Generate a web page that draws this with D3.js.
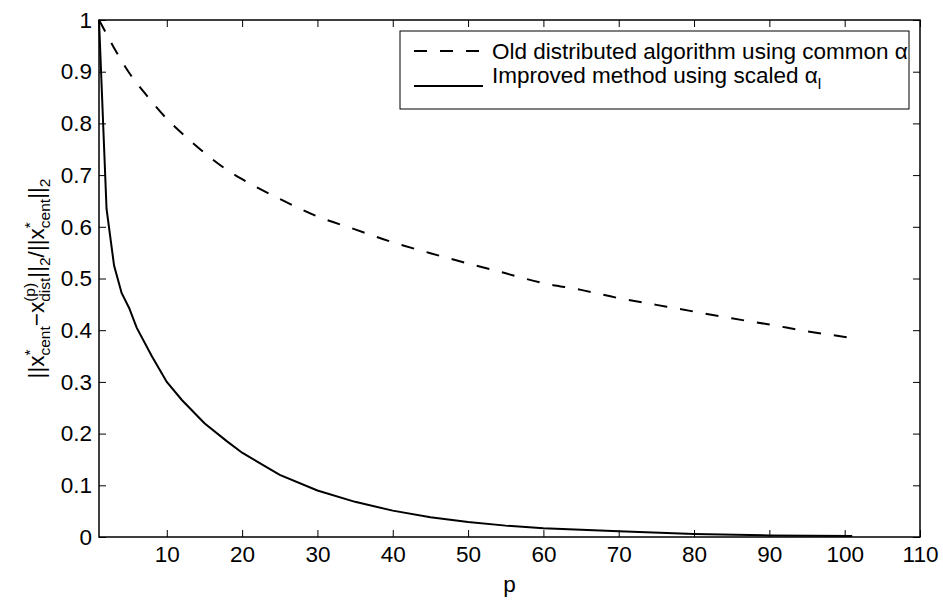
<!DOCTYPE html>
<html>
<head>
<meta charset="utf-8">
<script src="https://cdn.jsdelivr.net/npm/d3@7"></script>
<style>
body { margin: 0; background: #fff; }
svg text { font-family: "Liberation Sans", Arial, sans-serif; fill: #000; }
</style>
</head>
<body>
<div id="chart"></div>
<script>
var width = 943,
    height = 600;

const margin = { top: 20, right: 23, bottom: 63, left: 99 };
const fontSize = 22.5;
const smallSize = 15.5;

// old distributed algorithm (dashed)
const pOld = [1, 2, 3, 5, 7, 10, 12, 15, 18, 20, 25, 30, 35, 40, 45, 50, 55, 60, 65, 70, 75, 80, 85, 90, 95, 101];
const errOld = [1.0, 0.973, 0.946, 0.898, 0.860, 0.809, 0.781, 0.743, 0.710, 0.692, 0.654, 0.620, 0.595, 0.570, 0.549, 0.529, 0.510, 0.491, 0.478, 0.462, 0.449, 0.436, 0.423, 0.411, 0.398, 0.385];

// improved method (solid)
const pNew = [1, 2, 3, 4, 5, 6, 8, 10, 12, 15, 18, 20, 22, 25, 30, 35, 40, 45, 50, 55, 60, 70, 80, 90, 101];
const errNew = [1.0, 0.635, 0.525, 0.472, 0.443, 0.405, 0.350, 0.300, 0.265, 0.220, 0.185, 0.163, 0.146, 0.120, 0.090, 0.068, 0.051, 0.038, 0.029, 0.022, 0.017, 0.011, 0.006, 0.003, 0.002];

const xTicks = [10, 20, 30, 40, 50, 60, 70, 80, 90, 100, 110];
const yTicks = [0, 0.1, 0.2, 0.3, 0.4, 0.5, 0.6, 0.7, 0.8, 0.9, 1];
const yTickLabels = ['0', '0.1', '0.2', '0.3', '0.4', '0.5', '0.6', '0.7', '0.8', '0.9', '1'];

var svg = d3.select('#chart').append('svg')
    .attr('width', width)
    .attr('height', height);

var xScale = d3.scaleLinear()
    .domain([1, 110])
    .range([margin.left, width - margin.right]);

var yScale = d3.scaleLinear()
    .domain([0, 1])
    .range([height - margin.bottom, margin.top]);

const x0 = xScale.range()[0], x1 = xScale.range()[1];
const y0 = yScale.range()[0], y1 = yScale.range()[1];

// axes, ticks pointing inward (matlab style)
function styleAxis(g) {
    g.select('.domain').remove();
    g.selectAll('.tick line').attr('stroke', '#000').attr('stroke-width', 1);
    g.selectAll('.tick text').style('font-size', fontSize + 'px');
}

svg.append('g')
    .attr('transform', `translate(0,${y0})`)
    .call(d3.axisBottom(xScale).tickValues(xTicks).tickSize(-7).tickPadding(9))
    .call(styleAxis);

svg.append('g')
    .attr('transform', `translate(0,${y1})`)
    .call(d3.axisTop(xScale).tickValues(xTicks).tickSize(-7).tickFormat(''))
    .call(styleAxis);

svg.append('g')
    .attr('transform', `translate(${x0},0)`)
    .call(d3.axisLeft(yScale).tickValues(yTicks).tickSize(-7).tickPadding(7)
        .tickFormat((d, i) => yTickLabels[i]))
    .call(styleAxis);

svg.append('g')
    .attr('transform', `translate(${x1},0)`)
    .call(d3.axisRight(yScale).tickValues(yTicks).tickSize(-7).tickFormat(''))
    .call(styleAxis);

svg.append('rect')
    .attr('x', x0).attr('y', y1)
    .attr('width', x1 - x0).attr('height', y0 - y1)
    .attr('fill', 'none')
    .attr('stroke', '#000')
    .attr('stroke-width', 1.5);

// curves
const lineOld = d3.line()
    .x((d, i) => xScale(pOld[i]))
    .y(d => yScale(d))
    .curve(d3.curveMonotoneX);

const lineNew = d3.line()
    .x((d, i) => xScale(pNew[i]))
    .y(d => yScale(d));

svg.append('path')
    .attr('d', lineOld(errOld))
    .attr('fill', 'none')
    .attr('stroke', '#000')
    .attr('stroke-width', 2)
    .attr('stroke-dasharray', '13,13');

svg.append('path')
    .attr('d', lineNew(errNew))
    .attr('fill', 'none')
    .attr('stroke', '#000')
    .attr('stroke-width', 2);

// x label
svg.append('text')
    .attr('x', (x0 + x1) / 2)
    .attr('y', 592)
    .attr('text-anchor', 'middle')
    .style('font-size', fontSize + 'px')
    .text('p');

// rich text helper: segments of [text, 'b'|'sup'|'sub', stacked]
function richText(el, segs) {
    let cur = 0;
    let lastLen = 0;
    segs.forEach(s => {
        const target = s[1] === 'sup' ? -9 : s[1] === 'sub' ? 6 : 0;
        const ts = el.append('tspan')
            .attr('dy', target - cur)
            .style('font-size', (s[1] === 'b' ? fontSize : smallSize) + 'px')
            .text(s[0]);
        if (s[2]) ts.attr('dx', -lastLen);
        cur = target;
        lastLen = ts.node().getComputedTextLength();
    });
}

var ylab = svg.append('text')
    .attr('transform', `translate(44,${(y0 + y1) / 2}) rotate(-90)`)
    .attr('text-anchor', 'middle')
    .style('font-size', fontSize + 'px');

richText(ylab, [
    ['||x', 'b'], ['*', 'sup'], ['cent', 'sub', true],
    ['\u2212x', 'b'], ['(p)', 'sup'], ['dist', 'sub', true],
    ['||', 'b'], ['2', 'sub'],
    ['/||x', 'b'], ['*', 'sup'], ['cent', 'sub', true],
    ['||', 'b'], ['2', 'sub']
]);

// legend
const legend = svg.append('g').attr('class', 'legend');

legend.append('rect')
    .attr('x', 400).attr('y', 31)
    .attr('width', 509).attr('height', 78)
    .attr('fill', '#fff')
    .attr('stroke', '#000')
    .attr('stroke-width', 1);

legend.append('line')
    .attr('x1', 414).attr('x2', 483)
    .attr('y1', 51).attr('y2', 51)
    .attr('stroke', '#000').attr('stroke-width', 2)
    .attr('stroke-dasharray', '13,13');

legend.append('text')
    .attr('x', 492).attr('y', 59)
    .style('font-size', fontSize + 'px')
    .text('Old distributed algorithm using common \u03b1');

legend.append('line')
    .attr('x1', 414).attr('x2', 483)
    .attr('y1', 86).attr('y2', 86)
    .attr('stroke', '#000').attr('stroke-width', 2);

var leg2 = legend.append('text')
    .attr('x', 492).attr('y', 83)
    .style('font-size', fontSize + 'px');

richText(leg2, [['Improved method using scaled \u03b1', 'b'], ['l', 'sub']]);
</script>
</body>
</html>
